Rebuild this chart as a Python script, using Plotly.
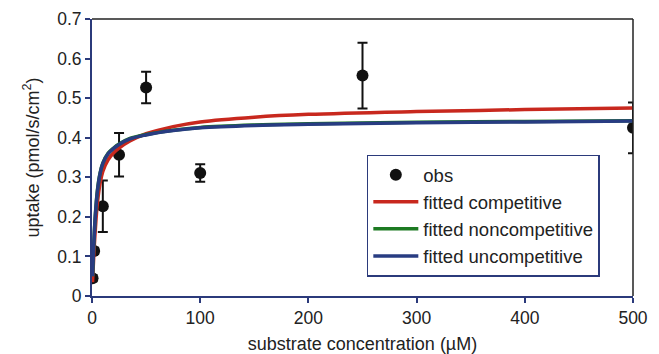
import plotly.graph_objects as go

# observed data
obs_x = [0.5, 2, 10, 25, 50, 100, 250, 500]
obs_y = [0.045, 0.114, 0.227, 0.357, 0.527, 0.311, 0.557, 0.425]
obs_err = [0.008, 0.008, 0.065, 0.055, 0.04, 0.022, 0.083, 0.064]

# fitted curves
fit_x = [0.5, 1, 2, 3, 5, 7.5, 10, 15, 20, 25, 35, 50, 75, 100, 150, 200, 300, 400, 500]
fit_comp = [0.035, 0.065, 0.12, 0.165, 0.235, 0.285, 0.315, 0.345, 0.362, 0.374, 0.392, 0.41, 0.428, 0.44, 0.452, 0.459, 0.466, 0.471, 0.475]
fit_noncomp = [0.05, 0.09, 0.152, 0.202, 0.267, 0.311, 0.336, 0.361, 0.374, 0.384, 0.398, 0.408, 0.419, 0.426, 0.432, 0.435, 0.439, 0.441, 0.443]
fit_uncomp = [0.05, 0.09, 0.15, 0.2, 0.265, 0.31, 0.335, 0.36, 0.373, 0.383, 0.397, 0.407, 0.418, 0.425, 0.431, 0.434, 0.438, 0.44, 0.442]

x_ticks = [0, 100, 200, 300, 400, 500]
y_ticks = [0, 0.1, 0.2, 0.3, 0.4, 0.5, 0.6, 0.7]
y_tick_text = ["0", "0.1", "0.2", "0.3", "0.4", "0.5", "0.6", "0.7"]

AX = "#2b3a7b"
FONT = "Liberation Sans, Arial, sans-serif"

fig = go.Figure()
fig.add_trace(go.Scatter(
    x=obs_x, y=obs_y, mode="markers", name="obs", legendgroup="a",
    marker=dict(color="#111111", size=12),
    error_y=dict(type="data", array=obs_err, color="#111111", thickness=2, width=5),
))
fig.add_trace(go.Scatter(x=fit_x, y=fit_comp, mode="lines", name="fitted competitive",
                         legendgroup="b", line=dict(color="#c8281e", width=3.5, shape="spline")))
fig.add_trace(go.Scatter(x=fit_x, y=fit_noncomp, mode="lines", name="fitted noncompetitive",
                         legendgroup="c", line=dict(color="#1d7a22", width=3.5, shape="spline")))
fig.add_trace(go.Scatter(x=fit_x, y=fit_uncomp, mode="lines", name="fitted uncompetitive",
                         legendgroup="d", line=dict(color="#283c82", width=3.5, shape="spline")))

fig.update_layout(
    width=659, height=354,
    margin=dict(l=92, r=26, t=19, b=58, autoexpand=False),
    paper_bgcolor="white", plot_bgcolor="white",
    font=dict(family=FONT, size=17.5, color="#222222"),
    showlegend=True,
    legend=dict(x=0.508, y=0.51, xanchor="left", yanchor="top",
                bordercolor=AX, borderwidth=1.5, bgcolor="white",
                font=dict(size=18.5), tracegroupgap=0, traceorder="grouped",
                itemwidth=45),
    xaxis=dict(range=[0, 500], tickvals=x_ticks, showgrid=False, zeroline=False,
               showline=True, linecolor=AX, linewidth=2, ticks="outside",
               tickcolor=AX, ticklen=5, tickwidth=1.5, automargin=False,
               title=dict(text="substrate concentration (µM)", standoff=12,
                          font=dict(size=18))),
    yaxis=dict(range=[0, 0.7], tickvals=y_ticks, ticktext=y_tick_text, showgrid=False,
               zeroline=False, showline=True, linecolor=AX, linewidth=2,
               ticks="outside", tickcolor=AX, ticklen=5, tickwidth=1.5, automargin=False,
               title=dict(text="uptake (pmol/s/cm<sup>2</sup>)", standoff=13,
                          font=dict(size=18))),
    shapes=[
        dict(type="line", xref="paper", yref="paper", x0=0, x1=1, y0=1, y1=1,
             line=dict(color="#222222", width=1.5)),
        dict(type="line", xref="paper", yref="paper", x0=1, x1=1, y0=0, y1=1,
             line=dict(color="#222222", width=1.5)),
    ],
)

fig.write_html("out.html")
